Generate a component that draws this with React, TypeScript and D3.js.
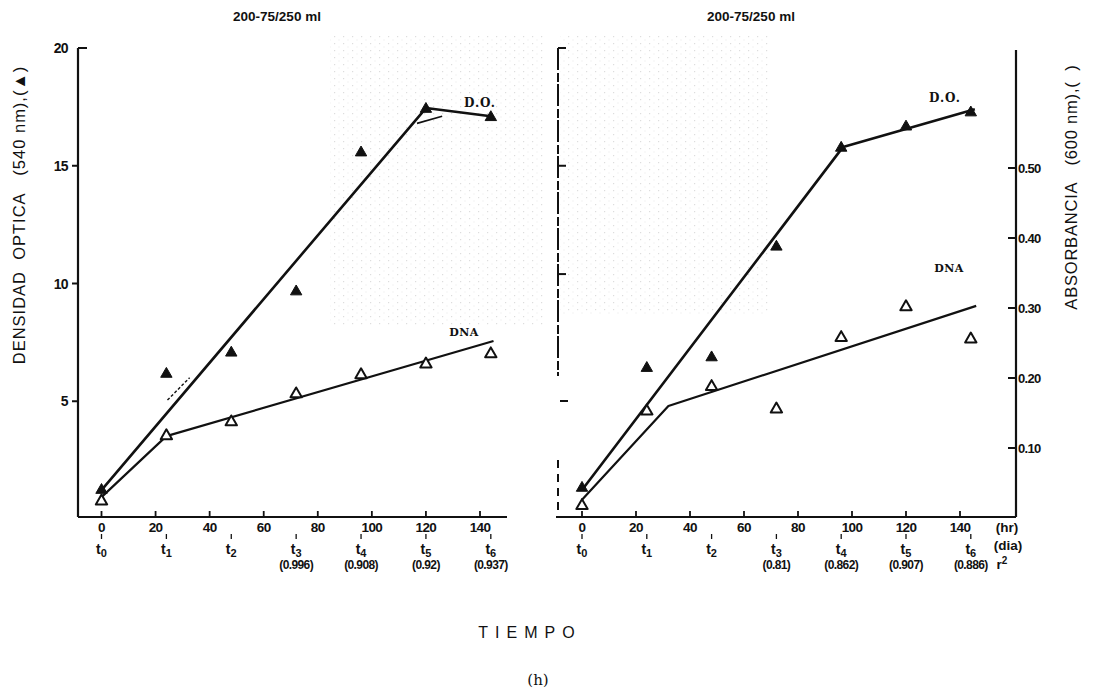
import React from "react";
import * as d3 from "d3";

// Sampling times (hours) and their labels
const hours = [0, 24, 48, 72, 96, 120, 144];
const timeSubs = ["0", "1", "2", "3", "4", "5", "6"];
const hourTicks = [0, 20, 40, 60, 80, 100, 120, 140];

// Left panel: optical density (540 nm) and DNA
const leftDO = [1.27, 6.2, 7.1, 9.7, 15.6, 17.45, 17.1];
const leftDNA = [0.8, 3.57, 4.16, 5.35, 6.16, 6.62, 7.05];
const leftDOFit: [number, number][] = [[0, 1.23], [120, 17.45], [144, 17.1]];
const leftDNAFit: [number, number][] = [[0, 0.93], [24, 3.52], [145, 7.56]];
const leftDOAlt1: [number, number][] = [[116.7, 16.8], [126, 17.1]];
const leftDOAlt2: [number, number][] = [[24.4, 5.05], [32.6, 6.0]];
const leftR2 = ["", "", "", "(0.996)", "(0.908)", "(0.92)", "(0.937)"];

// Right panel: optical density and absorbance (600 nm)
const rightDO = [1.36, 6.45, 6.9, 11.6, 15.8, 16.7, 17.3];
const rightDNA = [0.019, 0.154, 0.189, 0.157, 0.259, 0.303, 0.257];
const rightDOFit: [number, number][] = [[0, 1.23], [96.7, 15.8], [145.5, 17.4]];
const rightDNAFit: [number, number][] = [[0, 0.026], [32, 0.16], [146, 0.303]];
const rightR2 = ["", "", "", "(0.81)", "(0.862)", "(0.907)", "(0.886)"];

const densityTicks = [20, 15, 10, 5];
const absTicks = [0.5, 0.4, 0.3, 0.2, 0.1];
const absLabels = ["0.50", "0.40", "0.30", "0.20", "0.10"];
const stubTicks = [15, 10.4];

const W = 1096;
const H = 689;
const INK = "#111";
const SANS = "'Liberation Sans', Arial, sans-serif";
const SERIF = "'DejaVu Serif', serif";

const yDen = d3.scaleLinear().domain([0, 20]).range([519, 48]);
const yAbs = d3.scaleLinear().domain([0, 0.5]).range([518, 168]);
const xL = d3.scaleLinear().domain([0, 140]).range([101.5, 480]);
const xR = d3.scaleLinear().domain([0, 140]).range([582, 960]);

const tri = d3.symbol().type(d3.symbolTriangle).size(56)()!;

function Tee({ x, y, filled }: { x: number; y: number; filled: boolean }) {
  return (
    <path
      d={tri}
      transform={`translate(${x},${y + 1})`}
      fill={filled ? INK : "#fff"}
      stroke={INK}
      strokeWidth={filled ? 1 : 2}
      strokeLinejoin="round"
    />
  );
}

function fitPath(pts: [number, number][], x: d3.ScaleLinear<number, number>, y: d3.ScaleLinear<number, number>) {
  return d3
    .line<[number, number]>()
    .x((d) => x(d[0]))
    .y((d) => y(d[1]))(pts)!;
}

function TimeAxis({
  x,
  r2,
  axisFrom,
  axisTo,
}: {
  x: d3.ScaleLinear<number, number>;
  r2: string[];
  axisFrom: number;
  axisTo: number;
}) {
  return (
    <g>
      <line x1={axisFrom} x2={axisTo} y1={517} y2={517} stroke={INK} strokeWidth={2.2} />
      {hourTicks.map((t) => (
        <g key={t}>
          <line x1={x(t)} x2={x(t)} y1={511} y2={517} stroke={INK} strokeWidth={1.8} />
          <text x={x(t)} y={532} textAnchor="middle" fontFamily={SANS} fontWeight={700} fontSize={13.5} letterSpacing={-0.6} fill={INK}>
            {t}
          </text>
        </g>
      ))}
      {hours.map((h, i) => (
        <g key={h}>
          <line x1={x(h)} x2={x(h)} y1={534} y2={539} stroke={INK} strokeWidth={1.3} />
          <text x={x(h)} y={554} textAnchor="middle" fontFamily={SANS} fontWeight={700} fontSize={14} fill={INK}>
            t<tspan fontSize={11} dy={3}>{timeSubs[i]}</tspan>
          </text>
          {r2[i] && (
            <text x={x(h)} y={569} textAnchor="middle" fontFamily={SANS} fontWeight={700} fontSize={12} letterSpacing={-0.6} fill={INK}>
              {r2[i]}
            </text>
          )}
        </g>
      ))}
    </g>
  );
}

function Stipple() {
  return (
    <defs>
      <pattern id="dots" width="9" height="7" patternUnits="userSpaceOnUse">
        <rect x="1" y="1" width="1.2" height="1.2" fill="#777" />
        <rect x="5.5" y="4.5" width="1" height="1" fill="#999" />
      </pattern>
    </defs>
  );
}

export default function App() {
  return (
    <svg
      width={W}
      height={H}
      viewBox={`0 0 ${W} ${H}`}
      style={{ position: "absolute", left: 0, top: 0, background: "#fff" }}
    >
      <Stipple />
      <rect x={0} y={0} width={W} height={H} fill="#fff" />
      {/* halftone texture from the printed page */}
      <rect x={330} y={36} width={215} height={290} fill="url(#dots)" opacity={0.25} />
      <rect x={560} y={36} width={210} height={280} fill="url(#dots)" opacity={0.25} />

      {/* Titles */}
      <text x={277} y={21} textAnchor="middle" fontFamily={SANS} fontWeight={700} fontSize={13.5} fill={INK}>
        200-75/250 ml
      </text>
      <text x={751} y={21} textAnchor="middle" fontFamily={SANS} fontWeight={700} fontSize={13.5} fill={INK}>
        200-75/250 ml
      </text>

      {/* ---------- Left panel ---------- */}
      <line x1={78} x2={78} y1={48} y2={517} stroke={INK} strokeWidth={2.2} />
      {densityTicks.map((v) => (
        <g key={v}>
          {v === 20 ? (
            <line x1={78} x2={87} y1={yDen(v)} y2={yDen(v)} stroke={INK} strokeWidth={2} />
          ) : (
            <line x1={72} x2={78} y1={yDen(v)} y2={yDen(v)} stroke={INK} strokeWidth={2} />
          )}
          <text x={68} y={yDen(v) + 5} textAnchor="end" fontFamily={SANS} fontWeight={700} fontSize={14} letterSpacing={-0.6} fill={INK}>
            {v}
          </text>
        </g>
      ))}
      <text
        transform="translate(25,215) rotate(-90)"
        textAnchor="middle"
        fontFamily={SANS}
        fontSize={16.5}
        letterSpacing={1}
        fill={INK}
      >
        DENSIDAD{"\u00a0\u00a0"}OPTICA{"\u00a0\u00a0\u00a0"}(540 nm),(▲)
      </text>
      <TimeAxis x={xL} r2={leftR2} axisFrom={78} axisTo={507} />

      <path d={fitPath(leftDOFit, xL, yDen)} fill="none" stroke={INK} strokeWidth={2.6} strokeLinejoin="round" />
      <path d={fitPath(leftDNAFit, xL, yDen)} fill="none" stroke={INK} strokeWidth={2.2} strokeLinejoin="round" />
      <path d={fitPath(leftDOAlt1, xL, yDen)} fill="none" stroke={INK} strokeWidth={1.6} />
      <path d={fitPath(leftDOAlt2, xL, yDen)} fill="none" stroke={INK} strokeWidth={1.4} strokeDasharray="3 2" />
      {hours.map((h, i) => (
        <Tee key={"ld" + h} x={xL(h)} y={yDen(leftDO[i])} filled />
      ))}
      {hours.map((h, i) => (
        <Tee key={"ln" + h} x={xL(h)} y={yDen(leftDNA[i])} filled={false} />
      ))}
      <text x={480} y={107} textAnchor="middle" fontFamily={SERIF} fontWeight={700} fontSize={12} letterSpacing={1} fill={INK}>
        D.O.
      </text>
      <text x={464} y={336} textAnchor="middle" fontFamily={SERIF} fontWeight={700} fontSize={11} letterSpacing={0.5} fill={INK}>
        DNA
      </text>

      {/* ---------- Right panel ---------- */}
      <line x1={558} x2={558} y1={48} y2={376} stroke={INK} strokeWidth={2} strokeDasharray="22 3 9 2" />
      <line x1={558} x2={558} y1={460} y2={517} stroke={INK} strokeWidth={2} strokeDasharray="8 6" />
      <line x1={558} x2={566} y1={48} y2={48} stroke={INK} strokeWidth={2} />
      <line x1={560} x2={568} y1={401} y2={401} stroke={INK} strokeWidth={2} />
      {stubTicks.map((v) => (
        <line key={v} x1={558} x2={566} y1={yDen(v)} y2={yDen(v)} stroke={INK} strokeWidth={2} />
      ))}
      <line x1={1016} x2={1016} y1={50} y2={517} stroke={INK} strokeWidth={2.2} />
      {absTicks.map((v, i) => (
        <g key={v}>
          <line x1={1008} x2={1016} y1={yAbs(v)} y2={yAbs(v)} stroke={INK} strokeWidth={2} />
          <text x={1018} y={yAbs(v) + 5} fontFamily={SANS} fontWeight={700} fontSize={13} letterSpacing={-0.7} fill={INK}>
            {absLabels[i]}
          </text>
        </g>
      ))}
      <text
        transform="translate(1077,187) rotate(-90)"
        textAnchor="middle"
        fontFamily={SANS}
        fontSize={16.5}
        letterSpacing={0.8}
        fill={INK}
      >
        ABSORBANCIA{"\u00a0\u00a0\u00a0"}(600 nm),(
        {"\u00a0\u00a0"})
      </text>
      <TimeAxis x={xR} r2={rightR2} axisFrom={556} axisTo={1016} />
      <text x={1007} y={532} textAnchor="middle" fontFamily={SANS} fontWeight={700} fontSize={13.5} fill={INK}>
        (hr)
      </text>
      <text x={1008} y={550} textAnchor="middle" fontFamily={SANS} fontWeight={700} fontSize={13.5} fill={INK}>
        (dia)
      </text>
      <text x={1002} y={569} textAnchor="middle" fontFamily={SANS} fontWeight={700} fontSize={13.5} fill={INK}>
        r<tspan fontSize={10} dy={-5}>2</tspan>
      </text>

      <path d={fitPath(rightDOFit, xR, yDen)} fill="none" stroke={INK} strokeWidth={2.6} strokeLinejoin="round" />
      <path d={fitPath(rightDNAFit, xR, yAbs)} fill="none" stroke={INK} strokeWidth={2.2} strokeLinejoin="round" />
      {hours.map((h, i) => (
        <Tee key={"rd" + h} x={xR(h)} y={yDen(rightDO[i])} filled />
      ))}
      {hours.map((h, i) => (
        <Tee key={"rn" + h} x={xR(h)} y={yAbs(rightDNA[i])} filled={false} />
      ))}
      <text x={945} y={102} textAnchor="middle" fontFamily={SERIF} fontWeight={700} fontSize={12} letterSpacing={1} fill={INK}>
        D.O.
      </text>
      <text x={949} y={272} textAnchor="middle" fontFamily={SERIF} fontWeight={700} fontSize={11} letterSpacing={0.5} fill={INK}>
        DNA
      </text>

      {/* Shared axis title and panel tag */}
      <text x={530} y={638} textAnchor="middle" fontFamily={SANS} fontSize={16} letterSpacing={7} fill={INK}>
        TIEMPO
      </text>
      <text x={538} y={685} textAnchor="middle" fontFamily={SERIF} fontSize={15} fill={INK}>
        (h)
      </text>
    </svg>
  );
}
